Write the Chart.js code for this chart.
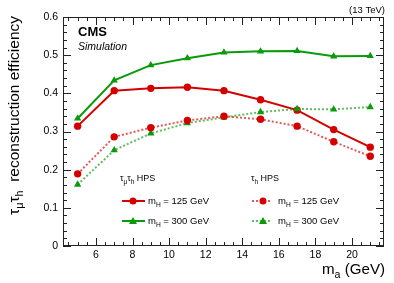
<!DOCTYPE html>
<html><head><meta charset="utf-8">
<script src="https://cdn.jsdelivr.net/npm/chart.js@4.4.0/dist/chart.umd.min.js"></script>
<style>html,body{margin:0;padding:0;background:#fff}#wrap{width:394px;height:283px}</style>
</head><body><div id="wrap"><canvas id="c" width="394" height="283"></canvas></div>
<script>
const massA = [5, 7, 9, 11, 13, 15, 17, 19, 21];
const mumuH125 = [0.314, 0.407, 0.413, 0.416, 0.407, 0.383, 0.356, 0.305, 0.259];
const mumuH300 = [0.334, 0.434, 0.474, 0.492, 0.507, 0.510, 0.511, 0.497, 0.498];
const tauH125  = [0.189, 0.286, 0.310, 0.329, 0.340, 0.332, 0.314, 0.273, 0.235];
const tauH300  = [0.161, 0.251, 0.295, 0.322, 0.337, 0.351, 0.359, 0.358, 0.364];
const xTicks = [6, 8, 10, 12, 14, 16, 18, 20];
const yTicks = [0, 0.1, 0.2, 0.3, 0.4, 0.5, 0.6];
const yTickLabels = ['0', '0.1', '0.2', '0.3', '0.4', '0.5', '0.6'];
const RED = '#d40000', GREEN = '#0a9a0a';
const FONT = '"Liberation Sans", Arial, Helvetica, sans-serif';

function pts(ys){ return massA.map((x,i)=>({x:x, y:ys[i]})); }

function segWidth(ctx, segs, size){
  let w=0;
  for(const s of segs){ ctx.font = (s.sub? (size*0.7).toFixed(2) : size.toFixed(2))+'px '+FONT; w+=ctx.measureText(s.t).width; }
  return w;
}
function drawSegs(ctx, segs, x, y, size){
  for(const s of segs){
    const fs = s.sub? size*0.7 : size;
    ctx.font = fs.toFixed(2)+'px '+FONT;
    ctx.fillText(s.t, x, y + (s.sub? size*0.28 : 0));
    x += ctx.measureText(s.t).width;
  }
  return x;
}

const overlay = {
  id:'overlay',
  afterDraw(chart){
    const ctx = chart.ctx, a = chart.chartArea;
    const xs = chart.scales.x, ys = chart.scales.y;
    ctx.save();
    ctx.strokeStyle = '#222'; ctx.lineWidth = 1;
    ctx.strokeRect(a.left+0.5, a.top+0.5, a.right-a.left-1, a.bottom-a.top-1);
    ctx.beginPath();
    for(let v=4.5; v<=21.6; v+=0.5){
      const p = Math.round(xs.getPixelForValue(v))+0.5;
      const major = Math.abs(v/2 - Math.round(v/2))<1e-6;
      const L = major? 8 : 4;
      ctx.moveTo(p, a.bottom); ctx.lineTo(p, a.bottom-L);
      ctx.moveTo(p, a.top); ctx.lineTo(p, a.top+L);
    }
    for(let k=0; k<=30; k++){
      const v = k*0.02;
      const p = Math.round(ys.getPixelForValue(v))+0.5;
      const major = k%5===0;
      const L = major? 8 : 4;
      ctx.moveTo(a.left, p); ctx.lineTo(a.left+L, p);
      ctx.moveTo(a.right, p); ctx.lineTo(a.right-L, p);
    }
    ctx.stroke();

    ctx.fillStyle = '#000';
    ctx.textBaseline = 'alphabetic';
    ctx.font = 'bold 13px '+FONT; ctx.textAlign='left';
    ctx.fillText('CMS', 78, 36);
    ctx.font = 'italic 10.5px '+FONT;
    ctx.fillText('Simulation', 78, 49.5);
    ctx.font = '9.5px '+FONT; ctx.textAlign='right';
    ctx.fillText('(13 TeV)', 385, 13);
    ctx.textAlign='left';

    // x title fitted to ~63px width
    const xt = [{t:'m'},{t:'a',sub:true},{t:' (GeV)'}];
    let xsz = 16;
    xsz = xsz * 63 / segWidth(ctx, xt, xsz);
    const xw = segWidth(ctx, xt, xsz);
    drawSegs(ctx, xt, 385 - xw, 274, xsz);

    // y title fitted to ~199px
    const yt = [{t:'τ'},{t:'μ',sub:true},{t:'τ'},{t:'h',sub:true},{t:'  reconstruction efficiency'}];
    let ysz = 14.5;
    ysz = ysz * 199 / segWidth(ctx, yt, ysz);
    const yw = segWidth(ctx, yt, ysz);
    ctx.save();
    ctx.translate(19, 16);
    ctx.rotate(-Math.PI/2);
    drawSegs(ctx, yt, -yw, 0, ysz);
    ctx.restore();

    const lsz = 9;
    drawSegs(ctx, [{t:'τ'},{t:'μ',sub:true},{t:'τ'},{t:'h',sub:true},{t:' HPS'}], 120, 181, lsz);
    drawSegs(ctx, [{t:'τ'},{t:'h',sub:true},{t:' HPS'}], 251, 181, lsz);
    const entries = [
      {x0:122, x1:145, xm:133, y:201, c:RED, shape:'circle', dash:false, lx:148, lab:'125'},
      {x0:122, x1:145, xm:133, y:221, c:GREEN, shape:'triangle', dash:false, lx:148, lab:'300'},
      {x0:252, x1:272, xm:263, y:201, c:RED, shape:'circle', dash:true, lx:278, lab:'125'},
      {x0:252, x1:272, xm:263, y:221, c:GREEN, shape:'triangle', dash:true, lx:278, lab:'300'}
    ];
    for(const e of entries){
      ctx.save();
      ctx.strokeStyle = e.dash? (e.c===RED?'rgba(212,0,0,0.65)':'rgba(10,154,10,0.65)') : e.c;
      ctx.lineWidth = 2;
      ctx.setLineDash(e.dash? [2,2] : []);
      ctx.beginPath(); ctx.moveTo(e.x0, e.y); ctx.lineTo(e.x1, e.y); ctx.stroke();
      ctx.restore();
      ctx.fillStyle = e.c;
      ctx.beginPath();
      if(e.shape==='circle'){ ctx.arc(e.xm, e.y, 3.5, 0, Math.PI*2); }
      else { ctx.moveTo(e.xm, e.y-4); ctx.lineTo(e.xm+4, e.y+3); ctx.lineTo(e.xm-4, e.y+3); ctx.closePath(); }
      ctx.fill();
      ctx.fillStyle = '#000';
      drawSegs(ctx, [{t:'m'},{t:'H',sub:true},{t:' = '+e.lab+' GeV'}], e.lx, e.y+3, lsz+0.5);
    }
    ctx.restore();
  }
};

const common = {showLine:true, borderWidth:2, pointBorderWidth:0, tension:0};
new Chart(document.getElementById('c'), {
  type:'scatter',
  data:{datasets:[
    Object.assign({label:'tau_h HPS mH=125', data:pts(tauH125), borderColor:'rgba(212,0,0,0.65)', borderDash:[2,2], backgroundColor:RED, pointBackgroundColor:RED, pointStyle:'circle', pointRadius:3.7}, common),
    Object.assign({label:'tau_h HPS mH=300', data:pts(tauH300), borderColor:'rgba(10,154,10,0.65)', borderDash:[2,2], backgroundColor:GREEN, pointBackgroundColor:GREEN, pointStyle:'triangle', pointRadius:4.2}, common),
    Object.assign({label:'tau_mu tau_h HPS mH=125', data:pts(mumuH125), borderColor:RED, backgroundColor:RED, pointBackgroundColor:RED, pointStyle:'circle', pointRadius:3.7}, common),
    Object.assign({label:'tau_mu tau_h HPS mH=300', data:pts(mumuH300), borderColor:GREEN, backgroundColor:GREEN, pointBackgroundColor:GREEN, pointStyle:'triangle', pointRadius:4.2}, common)
  ]},
  options:{
    responsive:false, animation:false, devicePixelRatio:1,
    layout:{padding:{left:0, top:17, right:10, bottom:0}},
    plugins:{legend:{display:false}, tooltip:{enabled:false}},
    scales:{
      x:{type:'linear', min:4.2, max:21.75,
         afterFit(s){ s.height = 37; },
         afterBuildTicks(s){ s.ticks = xTicks.map(v=>({value:v})); },
         grid:{display:false, drawTicks:false}, border:{display:false},
         ticks:{padding:3, color:'#000', font:{family:FONT, size:10.5}, maxRotation:0, autoSkip:false}},
      y:{type:'linear', min:0, max:0.6,
         afterFit(s){ s.width = 63; },
         afterBuildTicks(s){ s.ticks = yTicks.map(v=>({value:v})); },
         grid:{display:false, drawTicks:false}, border:{display:false},
         ticks:{padding:5, color:'#000', font:{family:FONT, size:10.5},
                callback:(v,i)=>yTickLabels[i]}}
    }
  },
  plugins:[overlay]
});
</script></body></html>
